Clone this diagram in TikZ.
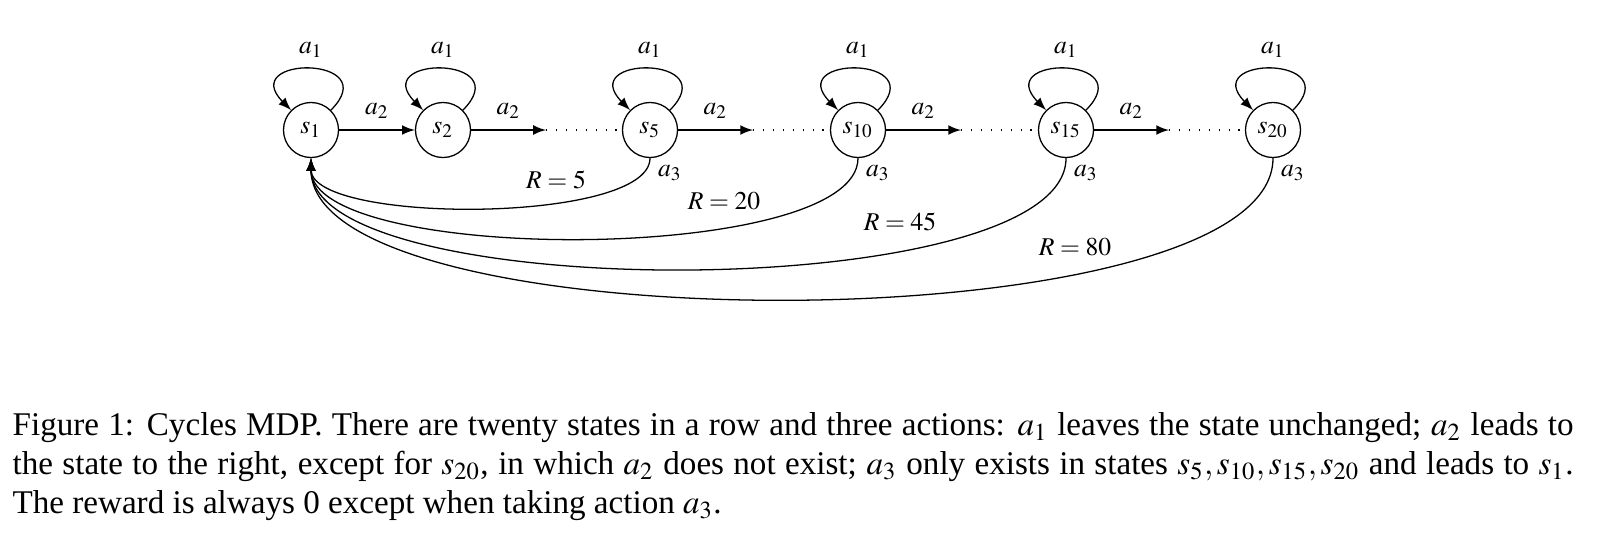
\documentclass[tikz,border=0pt]{standalone}
\usepackage{mathptmx}
\usepackage{fontspec}
\setmainfont{Liberation Serif}
\usetikzlibrary{automata, positioning, arrows}
\tikzset{
->, % every edge is directed
>=latex, % small filled heads
every state/.style={thin, minimum size=17.2pt, inner sep=0pt}, % the six circles
selfloop/.style={loop, out=45, in=135, looseness=5}, % action a1
dots/.style={-, dash pattern=on 0.4pt off 2.7pt}, % the skipped states
}
\begin{document}
\begin{tikzpicture}[x=0.3125pt, y=-0.3125pt, font=\fontsize{8}{9.6}\selectfont]
    \useasboundingbox (0,0) rectangle (1599,539);
    \node[state] (s1) at (311,130) {$s_1$};
    \node[state] (s2) at (443,130) {$s_2$};
    \node[state] (s5) at (650,130) {$s_5$};
    \node[state] (s10) at (858,130) {$s_{10}$};
    \node[state] (s15) at (1066,130) {$s_{15}$};
    \node[state] (s20) at (1273,130) {$s_{20}$};
    \coordinate[right=23.4pt of s2] (d2);
    \coordinate[right=23.4pt of s5] (d5);
    \coordinate[right=23.4pt of s10] (d10);
    \coordinate[right=23.4pt of s15] (d15);
    \draw
        (s1) edge node[above]{$a_2$} (s2)
        (s2) edge node[above]{$a_2$} (d2)
        (s5) edge node[above]{$a_2$} (d5)
        (s10) edge node[above]{$a_2$} (d10)
        (s15) edge node[above]{$a_2$} (d15)
        ;
    \draw[dots] (d2) -- (s5) (d5) -- (s10) (d10) -- (s15) (d15) -- (s20);
    \foreach \s in {1,2,5,10,15,20}
        \draw (s\s) edge[selfloop] node[above]{$a_1$} (s\s);
    \foreach \s/\r/\rx/\ry in {5/5/556/180, 10/20/724/201, 15/45/900/222, 20/80/1075/247} {
        \draw (s\s) edge[out=-90, in=-90, looseness=0.5] (s1);
        \path (s\s) ++(20,43) node (a\s) {$a_3$};
        \node (r\s) at (\rx,\ry) {$R=\r$};
    }
    \node[anchor=north west, inner sep=0pt, text width=487.8pt, align=justify, font=\fontsize{10.35}{12.1}\selectfont] (caption) at (12,412)
        {Figure 1: Cycles MDP. There are twenty states in a row and three actions: $a_1$ leaves the state unchanged; $a_2$ leads to\linebreak
        the state to the right, except for $s_{20}$, in which $a_2$ does not exist; $a_3$ only exists in states $s_5, s_{10}, s_{15}, s_{20}$ and leads to $s_1$.\linebreak
        The reward is always 0 except when taking action $a_3$.};
\end{tikzpicture}
\end{document}
